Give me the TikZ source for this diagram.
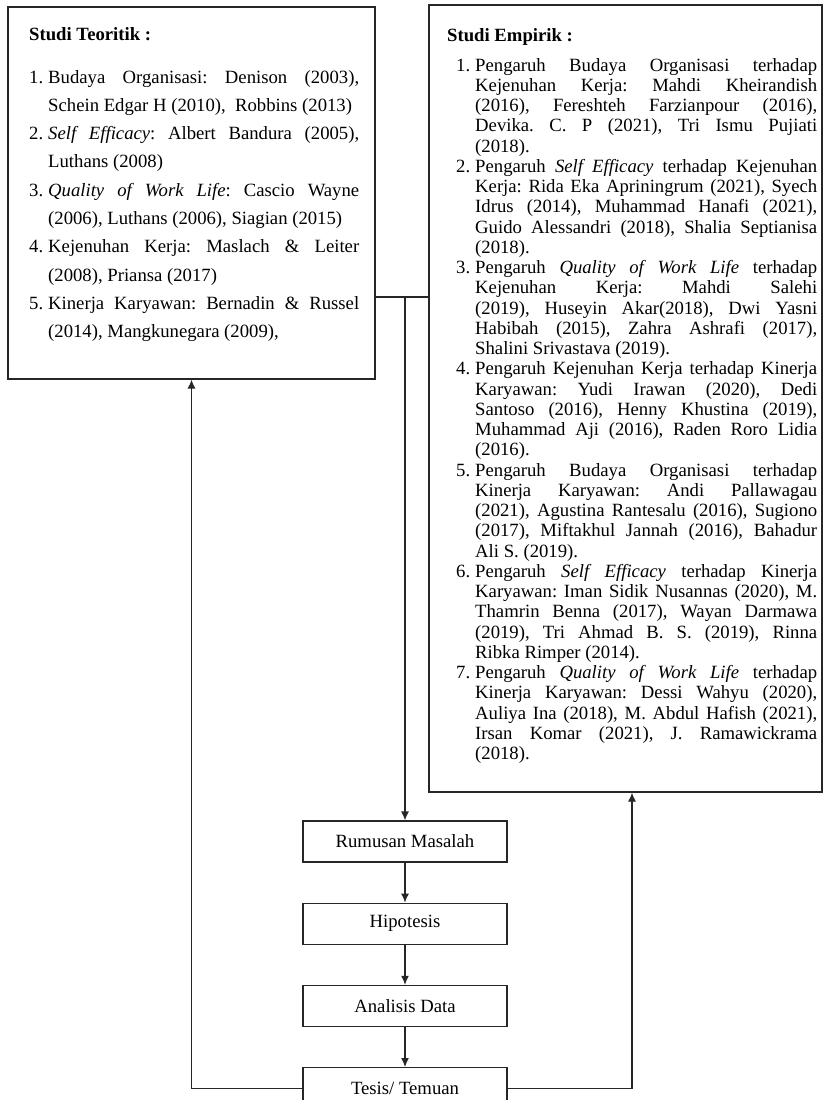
\documentclass[tikz,border=0pt]{standalone}
\usepackage{fontspec}
\setmainfont{Liberation Serif}
\usetikzlibrary{arrows.meta}
\usetikzlibrary{positioning}
\newcommand{\butir}[2]{\noindent\hangindent=19pt\hangafter=1\makebox[19pt][l]{#1}#2\par}
\newcommand{\ukuran}{\fontsize{18.7}{20}\selectfont}

\begin{document}
\begin{tikzpicture}[x=1pt,y=-1pt,>={Latex[length=9pt,width=8pt]},
		garis/.style={draw=black!85,line width=1.2pt},
		kotak/.style={garis,inner sep=0pt},
		tahap/.style={kotak,minimum width=204pt,minimum height=41pt,font=\ukuran},
		judul/.style={anchor=base west,inner sep=0pt,font=\ukuran\bfseries},
		isi/.style={anchor=base west,inner sep=0pt,text width=#1,align=justify}]
				\def\kiri{191};
				\def\kanan{632};
				\def\tinggi{297};
				\useasboundingbox (0,0) rectangle (824,1100);
				\node[kotak,minimum width=367pt,minimum height=372pt] (teori) at (191.5,193) {};
				\node[kotak,minimum width=393pt,minimum height=787pt] (empiris) at (625.5,398.5) {};
				\node[judul] (tjudul) at (29,40) {Studi Teoritik :};
				\node[isi=330pt,font=\fontsize{18.7}{28.3}\selectfont\frenchspacing] (tdaftar) at (29,83) {%
					\butir{1.}{Budaya Organisasi: Denison (2003),\linebreak Schein Edgar H (2010), \ Robbins (2013)}%
					\butir{2.}{\textit{Self Efficacy}: Albert Bandura (2005),\linebreak Luthans (2008)}%
					\butir{3.}{\textit{Quality of Work Life}: Cascio Wayne\linebreak (2006), Luthans (2006), Siagian (2015)}%
					\butir{4.}{Kejenuhan Kerja: Maslach \& Leiter\linebreak (2008), Priansa (2017)}%
					\butir{5.}{Kinerja Karyawan: Bernadin \& Russel\linebreak (2014), Mangkunegara (2009),}};
				\node[judul] (ejudul) at (447,41) {Studi Empirik :};
				\node[isi=361pt,font=\fontsize{18.7}{20.25}\selectfont\frenchspacing] (edaftar) at (456,71) {%
					\butir{1.}{Pengaruh Budaya Organisasi terhadap\linebreak Kejenuhan Kerja: Mahdi Kheirandish\linebreak (2016), Fereshteh Farzianpour (2016),\linebreak Devika. C. P (2021), Tri Ismu Pujiati\linebreak (2018).}%
					\butir{2.}{Pengaruh \textit{Self Efficacy} terhadap Kejenuhan\linebreak Kerja: Rida Eka Apriningrum (2021), Syech\linebreak Idrus (2014), Muhammad Hanafi (2021),\linebreak Guido Alessandri (2018), Shalia Septianisa\linebreak (2018).}%
					\butir{3.}{Pengaruh \textit{Quality of Work Life} terhadap\linebreak Kejenuhan Kerja: Mahdi Salehi\linebreak (2019), Huseyin Akar(2018), Dwi Yasni\linebreak Habibah (2015), Zahra Ashrafi (2017),\linebreak Shalini Srivastava (2019).}%
					\butir{4.}{Pengaruh Kejenuhan Kerja terhadap Kinerja\linebreak Karyawan: Yudi Irawan (2020), Dedi\linebreak Santoso (2016), Henny Khustina (2019),\linebreak Muhammad Aji (2016), Raden Roro Lidia\linebreak (2016).}%
					\butir{5.}{Pengaruh Budaya Organisasi terhadap\linebreak Kinerja Karyawan: Andi Pallawagau\linebreak (2021), Agustina Rantesalu (2016), Sugiono\linebreak (2017), Miftakhul Jannah (2016), Bahadur\linebreak Ali S. (2019).}%
					\butir{6.}{Pengaruh \textit{Self Efficacy} terhadap Kinerja\linebreak Karyawan: Iman Sidik Nusannas (2020), M.\linebreak Thamrin Benna (2017), Wayan Darmawa\linebreak (2019), Tri Ahmad B. S. (2019), Rinna\linebreak Ribka Rimper (2014).}%
					\butir{7.}{Pengaruh \textit{Quality of Work Life} terhadap\linebreak Kinerja Karyawan: Dessi Wahyu (2020),\linebreak Auliya Ina (2018), M. Abdul Hafish (2021),\linebreak Irsan Komar (2021), J. Ramawickrama\linebreak (2018).}};
				\node[tahap] (rumusan) at (405,841.5) {Rumusan Masalah};
				\node[tahap,below=40pt of rumusan] (hipotesis) {Hipotesis};
				\node[tahap,below=40pt of hipotesis] (analisis) {Analisis Data};
				\node[tahap,below=40pt of analisis] (tesis) {Tesis/ Temuan};
				\coordinate (simpang) at (0,\tinggi);
				\coordinate (balik) at (\kanan,0);
				\draw[garis] (teori.east |- simpang) -- (empiris.west |- simpang);
				\draw[garis,->] (rumusan.north |- simpang) -- (rumusan.north);
				\draw[garis,->] (rumusan) -- (hipotesis);
				\draw[garis,->] (hipotesis) -- (analisis);
				\draw[garis,->] (analisis) -- (tesis);
				%\draw[garis,->] (tesis.west) -- ++(-100,0);
				\draw[garis,->] (tesis.west) -| (teori.south);
				\draw[garis,->] (tesis.east) -| (empiris.south -| balik);
			\end{tikzpicture}
\end{document}
